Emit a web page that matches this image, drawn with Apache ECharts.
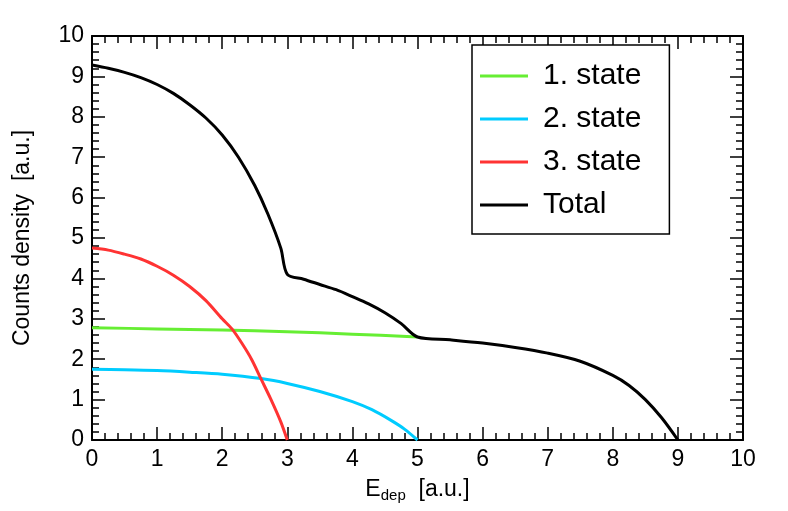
<!DOCTYPE html><html><head><meta charset="utf-8"><script src="https://cdn.jsdelivr.net/npm/echarts@6/dist/echarts.min.js"></script></head><body style="margin:0"><div id="c" style="width:788px;height:511px"></div><script>
var xs1=[0,1,2,3,4,5];
var s1=[2.78,2.75,2.72,2.68,2.62,2.55];
var xs2=[0,0.5,1,1.5,2,2.6,3,3.5,4,4.3,4.6,4.8,5];
var s2=[1.75,1.74,1.72,1.68,1.63,1.52,1.4,1.2,0.95,0.75,0.48,0.27,0];
var xs3=[0,0.25,0.5,0.75,1,1.25,1.5,1.75,2,2.15,2.3,2.45,2.6,2.75,2.9,3];
var s3=[4.75,4.7,4.6,4.48,4.3,4.08,3.8,3.45,3.0,2.75,2.4,2.0,1.5,1.0,0.45,0];
var xsT=[0,0.25,0.5,0.75,1,1.25,1.5,1.75,2,2.25,2.5,2.7,2.9,3,3.25,3.5,3.75,4,4.25,4.5,4.75,5,5.5,6,6.5,7,7.5,8,8.25,8.5,8.75,9];
var sT=[9.28,9.2,9.1,8.97,8.8,8.58,8.3,7.97,7.55,7.0,6.3,5.6,4.75,4.1,3.98,3.85,3.72,3.55,3.37,3.15,2.88,2.55,2.48,2.4,2.29,2.15,1.95,1.6,1.35,1.0,0.55,0];
function pts(a,b){return a.map(function(x,i){return [x,b[i]];});}
var ch=echarts.init(document.getElementById('c'));
var ax={min:0,max:10,interval:1,axisLine:{onZero:false,lineStyle:{color:'#000',width:2}},axisTick:{inside:true,length:13,lineStyle:{color:'#000',width:1.5}},minorTick:{show:true,splitNumber:5,length:7,lineStyle:{color:'#000',width:1.5}},splitLine:{show:false},axisLabel:{color:'#000',fontSize:23,margin:8,fontFamily:'Liberation Sans'}};
function mk(o){var b=JSON.parse(JSON.stringify(ax));for(var k in o)b[k]=o[k];return b;}
function ser(n,c,d){return {name:n,type:'line',smooth:0.3,symbol:'none',data:d,lineStyle:{color:c,width:3},itemStyle:{color:c}};}
ch.setOption({
animation:false,
grid:{left:92,right:45,top:36,bottom:71},
xAxis:[mk({type:'value',position:'bottom',name:'{a|E}{s|dep}{a|  [a.u.]}',nameLocation:'middle',nameGap:36,nameTextStyle:{rich:{a:{fontSize:23,color:'#000',fontFamily:'Liberation Sans'},s:{fontSize:15,color:'#000',fontFamily:'Liberation Sans',padding:[12,0,0,0]}}}}),
mk({type:'value',position:'top',axisLabel:{show:false}})],
yAxis:[mk({type:'value',position:'left',name:'Counts density  [a.u.]',nameLocation:'middle',nameGap:58,nameTextStyle:{fontSize:23,color:'#000',fontFamily:'Liberation Sans'}}),
mk({type:'value',position:'right',axisLabel:{show:false}})],
legend:{orient:'vertical',left:472,top:45,width:214,height:184,padding:[16,28,14,8],itemGap:13,itemWidth:48,itemHeight:3,borderColor:'#000',borderWidth:1.5,backgroundColor:'#fff',icon:'rect',textStyle:{fontSize:30,color:'#000',fontFamily:'Liberation Sans',padding:[0,0,0,10]},data:['1. state','2. state','3. state','Total']},
series:[ser('1. state','#66ee33',pts(xs1,s1)),ser('2. state','#00ccff',pts(xs2,s2)),ser('3. state','#ff3333',pts(xs3,s3)),ser('Total','#000',pts(xsT,sT))]
});
</script></body></html>
